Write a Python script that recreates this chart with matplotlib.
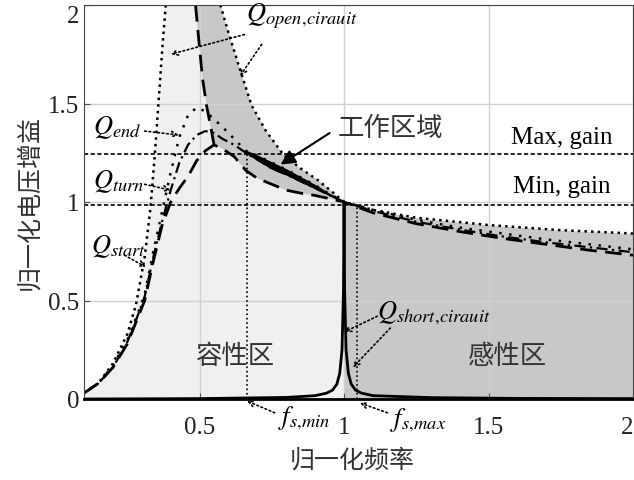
import matplotlib.pyplot as plt
import numpy as np

plt.rcParams['font.family'] = ['Liberation Serif', 'Noto Sans CJK SC']
plt.rcParams['mathtext.fontset'] = 'stix'

# open circuit curve (Q = 0), left and right branch
f_open_l = [0.10, 0.15, 0.20, 0.25, 0.28, 0.31, 0.33, 0.345, 0.36, 0.372, 0.383]
g_open_l = [0.03, 0.08, 0.18, 0.33, 0.48, 0.72, 0.97, 1.24, 1.55, 1.80, 2.00]
f_open_r = [0.572, 0.60, 0.634, 0.68, 0.73, 0.79, 0.85, 0.91, 0.96, 1.00, 1.10, 1.25, 1.50, 1.75, 2.00]
g_open_r = [2.00, 1.86, 1.70, 1.49, 1.36, 1.24, 1.17, 1.11, 1.05, 1.00, 0.96, 0.92, 0.883, 0.857, 0.84]

# Q_end / Q_turn / Q_start curves
f_q = [0.10, 0.15, 0.20, 0.25, 0.28, 0.31, 0.34, 0.37, 0.40, 0.43, 0.46, 0.49, 0.52, 0.55, 0.58, 0.62,
       0.66, 0.70, 0.75, 0.80, 0.85, 0.90, 0.95, 1.00, 1.10, 1.25, 1.40, 1.55, 1.70, 1.85, 2.00]
g_end = [0.03, 0.08, 0.17, 0.30, 0.41, 0.53, 0.75, 0.95, 1.15, 1.33, 1.44, 1.48, 1.46, 1.42, 1.38, 1.32,
         1.26, 1.235, 1.20, 1.165, 1.125, 1.085, 1.04, 1.00, 0.96, 0.91, 0.87, 0.84, 0.81, 0.785, 0.76]
g_turn = [0.03, 0.08, 0.16, 0.29, 0.40, 0.52, 0.72, 0.90, 1.06, 1.20, 1.29, 1.34, 1.36, 1.35, 1.32, 1.29,
          1.25, 1.215, 1.17, 1.14, 1.105, 1.07, 1.035, 1.00, 0.955, 0.90, 0.86, 0.825, 0.795, 0.77, 0.745]
g_start = [0.03, 0.08, 0.16, 0.28, 0.39, 0.50, 0.70, 0.88, 1.00, 1.07, 1.13, 1.21, 1.26, 1.29, 1.27, 1.23,
           1.16, 1.12, 1.09, 1.06, 1.045, 1.033, 1.017, 1.00, 0.945, 0.89, 0.85, 0.815, 0.785, 0.755, 0.73]

# steep left edge of the dark band
f_edge = [0.486, 0.50, 0.51, 0.524, 0.54, 0.55]
g_edge = [2.00, 1.78, 1.63, 1.49, 1.37, 1.29]

# short circuit curve
f_short = [0.10, 0.50, 0.80, 0.90, 0.94, 0.96, 0.975, 0.985, 0.993, 0.998, 1.0,
           1.002, 1.007, 1.015, 1.025, 1.04, 1.06, 1.10, 1.30, 1.60, 2.00]
g_short = [0.0, 0.002, 0.008, 0.017, 0.03, 0.045, 0.075, 0.13, 0.25, 0.55, 1.0,
           0.55, 0.25, 0.13, 0.075, 0.045, 0.03, 0.017, 0.007, 0.003, 0.002]

max_gain = 1.245
min_gain = 0.985
fs_min = 0.664
fs_max = 1.045

fig = plt.figure(figsize=(6.34, 4.81), dpi=100)
ax = fig.add_axes([84 / 634, 1 - 400 / 481, (633 - 84) / 634, 394 / 481])

# shaded areas
i1 = f_open_r.index(1.00)
light_x = f_open_l + f_open_r[:i1 + 1] + [1.0, 0.1]
light_y = g_open_l + g_open_r[:i1 + 1] + [0.0, 0.0]
ax.fill(light_x, light_y, color='#f0f0f0', zorder=0.1, lw=0)

j0 = f_q.index(0.58)
j1 = f_q.index(1.00)
band_x = f_edge + f_q[j0:j1 + 1] + f_open_r[:i1 + 1][::-1]
band_y = g_edge + g_start[j0:j1 + 1] + g_open_r[:i1 + 1][::-1]
ax.fill(band_x, band_y, color='#c8c8c8', zorder=0.2, lw=0)
ax.fill_between(f_open_r[i1:], 0, g_open_r[i1:], color='#c8c8c8', zorder=0.2, lw=0)

# working region wedge
w0 = f_q.index(0.66)
ax.fill_between(f_q[w0:j1 + 1], g_turn[w0:j1 + 1], g_end[w0:j1 + 1], color='k', zorder=3)

# curves
ax.plot(f_open_l, g_open_l, color='k', ls=':', lw=1.8)
ax.plot(f_open_r, g_open_r, color='k', ls=':', lw=1.8)
ax.plot(f_q, g_end, color='k', ls=(0, (1, 3)), lw=1.8)
ax.plot(f_q, g_turn, color='k', ls=(0, (5, 2, 1, 2)), lw=1.6)
ax.plot(f_q, g_start, color='k', ls=(0, (6, 3)), lw=2)
ax.plot(f_edge, g_edge, color='k', ls=(0, (6, 3)), lw=2)
ax.plot(f_short, g_short, color='k', lw=2, zorder=4)

ax.axhline(max_gain, color='k', ls=(0, (2.5, 1.5)), lw=1.2)
ax.axhline(min_gain, color='k', ls=(0, (2.5, 1.5)), lw=1.2)
ax.vlines(fs_min, 0, max_gain, color='k', ls=':', lw=1.2)
ax.vlines(fs_max, 0, min_gain, color='k', ls=':', lw=1.2)

ax.set_xlim(0.1, 2.0)
ax.set_ylim(0, 2.0)
ax.set_xticks([0.5, 1, 1.5, 2])
ax.set_xticklabels(['0.5', '1', '1.5', '2'])
ax.set_yticks([0, 0.5, 1, 1.5, 2])
ax.set_yticklabels(['0', '0.5', '1', '1.5', '2'])
ax.tick_params(direction='in', labelsize=18, length=4, color='#555555', labelcolor='#222222')
ax.tick_params(axis='x', pad=12)
ax.get_yticklabels()[-1].set_va('top')
ax.get_xticklabels()[-1].set_ha('right')
ax.grid(True, color='#d0d0d0', lw=1)
ax.set_axisbelow(True)
for s in ax.spines.values():
    s.set_color('#444444')
ax.spines['bottom'].set_color('k')
ax.spines['bottom'].set_linewidth(2)

cjk = ['Noto Sans CJK SC']
ax.set_xlabel('归一化频率', family=cjk, fontsize=18, color='#333333')
ax.xaxis.set_label_coords((352 - 84) / 549, -0.12)
ax.set_ylabel('归一化电压增益', family=cjk, fontsize=18, color='#333333', labelpad=4)

# labels and arrows
arr = dict(arrowstyle='->', ls=':', lw=1.2, color='k', shrinkA=0, shrinkB=0)
fs = 19
ax.text(0.66, 1.95, r'$Q_{open,\!cirauit}$', fontsize=fs, va='center')
ax.annotate('', xy=(0.40, 1.75), xytext=(0.655, 1.85), arrowprops=arr)
ax.annotate('', xy=(0.64, 1.64), xytext=(0.715, 1.80), arrowprops=arr)
ax.text(0.13, 1.38, r'$Q_{end}$', fontsize=fs, va='center')
ax.annotate('', xy=(0.428, 1.34), xytext=(0.31, 1.36), arrowprops=arr)
ax.text(0.13, 1.11, r'$Q_{turn}$', fontsize=fs, va='center')
ax.annotate('', xy=(0.40, 1.06), xytext=(0.31, 1.09), arrowprops=arr)
ax.text(0.125, 0.78, r'$Q_{start}$', fontsize=fs, va='center')
ax.annotate('', xy=(0.314, 0.67), xytext=(0.24, 0.73), arrowprops=arr)
ax.text(1.115, 0.44, r'$Q_{short,\!cirauit}$', fontsize=fs, va='center')
ax.annotate('', xy=(1.0, 0.34), xytext=(1.115, 0.42), arrowprops=arr)
ax.annotate('', xy=(1.03, 0.16), xytext=(1.16, 0.36), arrowprops=arr)
ax.text(0.77, -0.09, r'$f_{s,\!min}$', fontsize=fs, va='center', clip_on=False)
ax.annotate('', xy=(fs_min, -0.01), xytext=(0.76, -0.07), arrowprops=arr, annotation_clip=False)
ax.text(1.16, -0.10, r'$f_{s,\!max}$', fontsize=fs, va='center', clip_on=False)
ax.annotate('', xy=(fs_max + 0.01, -0.02), xytext=(1.15, -0.07), arrowprops=arr, annotation_clip=False)

ax.text(1.16, 1.38, '工作区域', family=cjk, fontsize=19, color='#333333', ha='center', va='center')
ax.annotate('', xy=(0.78, 1.19), xytext=(0.95, 1.35),
            arrowprops=dict(arrowstyle='-|>', lw=1.5, color='k', mutation_scale=22, shrinkA=0, shrinkB=0))
ax.text(1.755, 1.33, 'Max, gain', fontsize=18, ha='center', va='center')
ax.text(1.755, 1.08, 'Min, gain', fontsize=18, ha='center', va='center')
ax.text(0.62, 0.22, '容性区', family=cjk, fontsize=19, color='#333333', ha='center', va='center')
ax.text(1.566, 0.22, '感性区', family=cjk, fontsize=19, color='#333333', ha='center', va='center')

fig.savefig('out.png', dpi=100)
